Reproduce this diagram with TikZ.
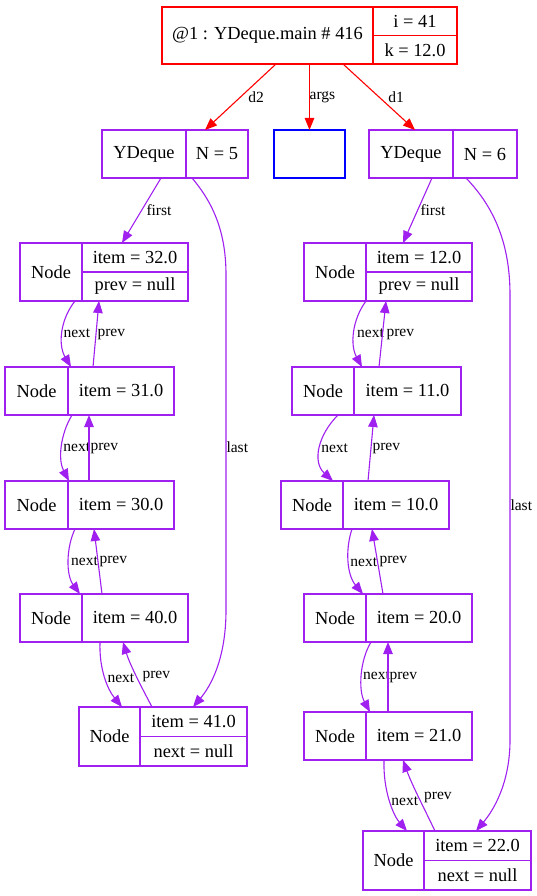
\documentclass[tikz,border=0pt]{standalone}
\usepackage{fontspec}
\setmainfont{Liberation Serif}
\usepackage{tikz}
\usetikzlibrary{arrows.meta,positioning}
\usepackage{xcolor}
\definecolor{gvred}{HTML}{FF0000}
\definecolor{gvblue}{HTML}{0000FF}
\definecolor{gvpurple}{HTML}{A020F0}
\newcommand\fldfont{\fontsize{18.4}{22}\selectfont}
\newcommand\edgefont{\fontsize{15.5}{18}\selectfont}

\begin{document}
\begin{tikzpicture}
    [x=1pt, y=-1pt,
    fld/.style={
      rectangle,
      anchor=north west,
      inner sep=0pt,
      outer sep=0pt,
      line width=1.1pt,
      draw=#1,
      font=\fldfont
      },
    fld/.default=gvpurple,
    lnk/.style={draw=#1, line width=1.1pt, -{Triangle[length=12pt,width=9.5pt,fill=#1]}},
    lnk/.default=gvpurple,
    lbl/.style={font=\edgefont, inner sep=0pt, text=black}]

    \useasboundingbox[fill=white] (0,0) rectangle (537,896);

    % frame and the two deques
    \node (m)  [fld=gvred, minimum width=211, minimum height=57] at (162,7) {@1 : YDeque.main \# 416};
    \node (mi) [fld=gvred, minimum width=84, minimum height=28.5] at (m.north east) {i = 41};
    \node (mk) [fld=gvred, minimum width=84, minimum height=28.5] at (mi.south west) {k = 12.0};

    \node (dl)  [fld, minimum width=84, minimum height=48] at (102,130) {YDeque};
    \node (dlN) [fld, minimum width=62, minimum height=48] at (dl.north east) {N = 5};
    \node (ar)  [fld=gvblue, minimum width=71, minimum height=48] at (274,130) {};
    \node (dr)  [fld, minimum width=84, minimum height=48] at (369,130) {YDeque};
    \node (drN) [fld, minimum width=64, minimum height=48] at (dr.north east) {N = 6};

    % left list
    \node (a1)  [fld, minimum width=62, minimum height=58] at (20,243) {Node};
    \node (a1i) [fld, minimum width=106, minimum height=29] at (a1.north east) {item = 32.0};
    \node (a1p) [fld, minimum width=106, minimum height=29] at (a1i.south west) {prev = null};
    \node (a2)  [fld, minimum width=63, minimum height=48] at (5,367) {Node};
    \node (a2i) [fld, minimum width=106, minimum height=48] at (a2.north east) {item = 31.0};
    \node (a3)  [fld, minimum width=63, minimum height=48] at (5,481) {Node};
    \node (a3i) [fld, minimum width=106, minimum height=48] at (a3.north east) {item = 30.0};
    \node (a4)  [fld, minimum width=62, minimum height=48] at (20,594) {Node};
    \node (a4i) [fld, minimum width=106, minimum height=48] at (a4.north east) {item = 40.0};
    \node (a5)  [fld, minimum width=61, minimum height=59] at (79,707) {Node};
    \node (a5i) [fld, minimum width=107, minimum height=29.5] at (a5.north east) {item = 41.0};
    \node (a5n) [fld, minimum width=107, minimum height=29.5] at (a5i.south west) {next = null};

    % right list
    \node (b1)  [fld, minimum width=62, minimum height=58] at (304,243) {Node};
    \node (b1i) [fld, minimum width=106, minimum height=29] at (b1.north east) {item = 12.0};
    \node (b1p) [fld, minimum width=106, minimum height=29] at (b1i.south west) {prev = null};
    \node (b2)  [fld, minimum width=62, minimum height=48] at (292,367) {Node};
    \node (b2i) [fld, minimum width=107, minimum height=48] at (b2.north east) {item = 11.0};
    \node (b3)  [fld, minimum width=62, minimum height=48] at (281,481) {Node};
    \node (b3i) [fld, minimum width=106, minimum height=48] at (b3.north east) {item = 10.0};
    \node (b4)  [fld, minimum width=62, minimum height=48] at (304,594) {Node};
    \node (b4i) [fld, minimum width=106, minimum height=48] at (b4.north east) {item = 20.0};
    \node (b5)  [fld, minimum width=62, minimum height=48] at (304,712) {Node};
    \node (b5i) [fld, minimum width=106, minimum height=48] at (b5.north east) {item = 21.0};
    \node (b6)  [fld, minimum width=61, minimum height=59] at (363,831) {Node};
    \node (b6i) [fld, minimum width=107, minimum height=29.5] at (b6.north east) {item = 22.0};
    \node (b6n) [fld, minimum width=107, minimum height=29.5] at (b6i.south west) {next = null};

    % locals
    \draw[lnk=gvred] ([xshift=114]m.south west) -- node[lbl, midway, xshift=15.5] {d2} ([xshift=19]dlN.north west);
    \draw[lnk=gvred] ([xshift=147.5]m.south west) -- node[lbl, midway, xshift=13] {args} (ar.north);
    \draw[lnk=gvred] ([xshift=181]m.south west) -- node[lbl, midway, xshift=17] {d1} ([xshift=46]dr.north west);

    % first / last
    \draw[lnk] ([xshift=59]dl.south west) -- node[lbl, midway, xshift=17.5] {first} ([xshift=40]a1i.north west);
    \draw[lnk] ([xshift=6]dlN.south west) .. controls (215,205) and (226,235) .. (226,275)
      -- node[lbl, pos=.513, anchor=west] {last} (226,610)
      .. controls (226,660) and (210,687) .. ([xshift=53]a5i.north west);
    \draw[lnk] ([xshift=63]dr.south west) -- node[lbl, midway, xshift=15.5] {first} ([xshift=37]b1i.north west);
    \draw[lnk] ([xshift=13]drN.south west) .. controls (495,208) and (510,245) .. (510,295)
      -- node[lbl, pos=.472, anchor=west] {last} (510,740)
      .. controls (510,785) and (492,812) .. ([xshift=52]b6i.north west);

    % left next / prev
    \draw[lnk] ([xshift=-7]a1.south east) .. controls (60,320) and (58,345) .. node[lbl, midway, anchor=west, xshift=.5] {next} ([xshift=3]a2.north east);
    \draw[lnk] ([xshift=25]a2i.north west) -- node[lbl, midway, anchor=west, xshift=1] {prev} ([xshift=17]a1p.south west);
    \draw[lnk] ([xshift=4]a2.south east) .. controls (60,435) and (58,460) .. node[lbl, midway, anchor=west, xshift=1] {next} ([xshift=1]a3.north east);
    \draw[lnk] ([xshift=21]a3i.north west) -- node[lbl, midway, anchor=west, xshift=1] {prev} ([xshift=21]a2i.south west);
    \draw[lnk] ([xshift=7]a3.south east) .. controls (66,548) and (66,575) .. node[lbl, midway, anchor=west, xshift=1.8] {next} ([xshift=-2]a4.north east);
    \draw[lnk] ([xshift=20]a4i.north west) -- node[lbl, midway, anchor=west, xshift=1] {prev} ([xshift=26]a3i.south west);
    \draw[lnk] ([xshift=18]a4i.south west) .. controls (99,670) and (108,690) .. node[lbl, midway, anchor=west, xshift=1.6] {next} ([xshift=-18]a5.north east);
    \draw[lnk] ([xshift=12]a5i.north west) .. controls (142,688) and (130,665) .. node[lbl, midway, anchor=west, xshift=5.6] {prev} ([xshift=41]a4i.south west);

    % right next / prev
    \draw[lnk] (b1.south east) .. controls (352,320) and (350,345) .. node[lbl, midway, anchor=west, xshift=2.4] {next} ([xshift=8]b2.north east);
    \draw[lnk] ([xshift=25]b2i.north west) -- node[lbl, midway, anchor=west, xshift=3.5] {prev} ([xshift=20]b1p.south west);
    \draw[lnk] ([xshift=46]b2.south west) .. controls (318,435) and (312,462) .. node[lbl, midway, anchor=west, xshift=.6] {next} ([xshift=52]b3.north west);
    \draw[lnk] ([xshift=25]b3i.north west) -- node[lbl, midway, anchor=west, xshift=1] {prev} ([xshift=20]b2i.south west);
    \draw[lnk] ([xshift=9]b3i.south west) .. controls (345,550) and (347,575) .. node[lbl, midway, anchor=west, xshift=1] {next} ([xshift=-3]b4.north east);
    \draw[lnk] ([xshift=17]b4i.north west) -- node[lbl, midway, anchor=west, xshift=1.5] {prev} ([xshift=29]b3i.south west);
    \draw[lnk] ([xshift=5]b4i.south west) .. controls (360,660) and (358,690) .. node[lbl, midway, anchor=west, xshift=.8] {next} ([xshift=4]b5i.north west);
    \draw[lnk] ([xshift=22]b5i.north west) -- node[lbl, midway, anchor=west, xshift=1] {prev} ([xshift=22]b4i.south west);
    \draw[lnk] ([xshift=18]b5i.south west) .. controls (383,790) and (393,815) .. node[lbl, midway, anchor=west, xshift=1] {next} ([xshift=44]b6.north west);
    \draw[lnk] ([xshift=11]b6i.north west) .. controls (425,810) and (412,785) .. node[lbl, midway, anchor=west, xshift=5] {prev} ([xshift=37]b5i.south west);

  \end{tikzpicture}
\end{document}
